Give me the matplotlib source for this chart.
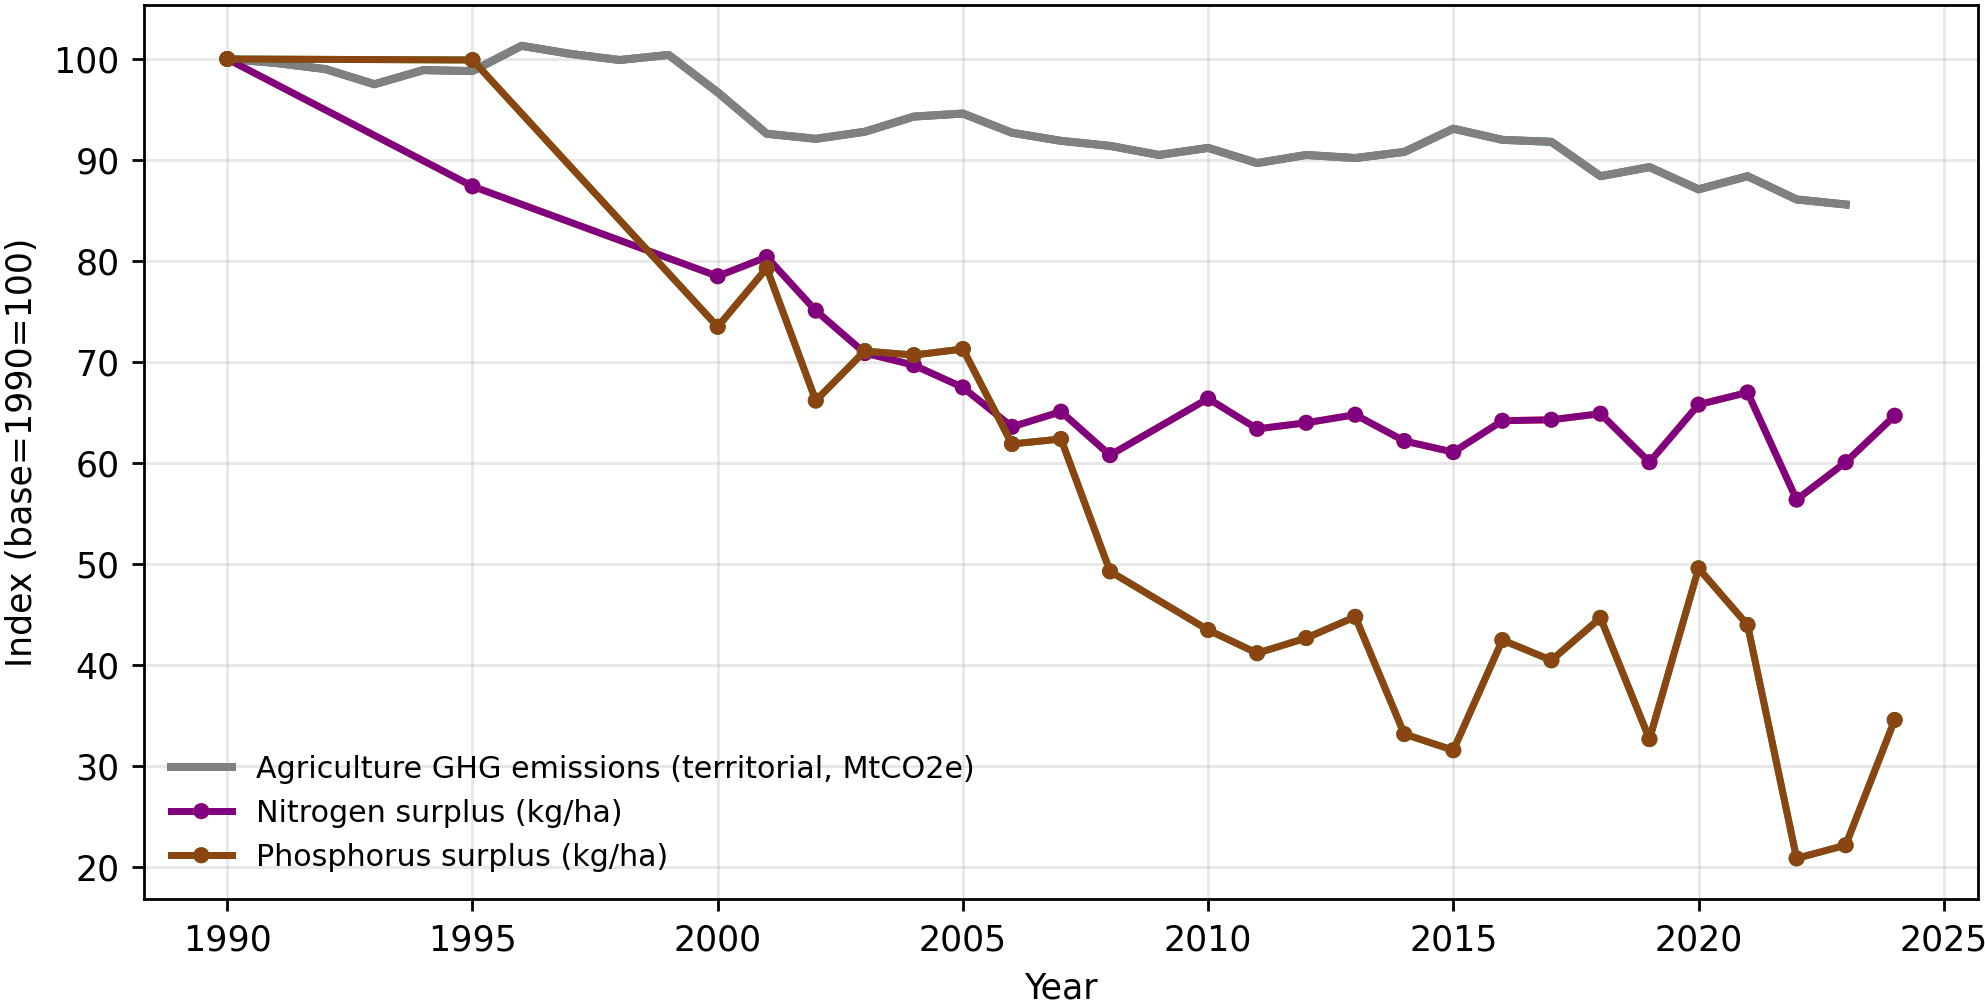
import numpy as np
import matplotlib
matplotlib.use("Agg")
import matplotlib.pyplot as plt
import matplotlib.patheffects as pe

# agriculture GHG emissions index, 1990-2023
ghg_years = list(range(1990, 2024))
ghg_index = [100.0, 99.6, 99.0, 97.5, 98.9, 98.8, 101.3, 100.5, 99.9, 100.4,
             96.7, 92.6, 92.1, 92.8, 94.3, 94.6, 92.7, 91.9, 91.4, 90.5,
             91.2, 89.7, 90.5, 90.2, 90.8, 93.1, 92.0, 91.8, 88.4, 89.3,
             87.1, 88.4, 86.1, 85.6]

# nutrient balance years (no 1991-94, 1996-99, 2009)
nutr_years = [1990, 1995, 2000, 2001, 2002, 2003, 2004, 2005, 2006, 2007, 2008,
              2010, 2011, 2012, 2013, 2014, 2015, 2016, 2017, 2018, 2019,
              2020, 2021, 2022, 2023, 2024]
nitrogen_index = [100.0, 87.4, 78.5, 80.4, 75.1, 70.9, 69.7, 67.5, 63.6, 65.1, 60.8,
                  66.4, 63.4, 64.0, 64.8, 62.2, 61.1, 64.2, 64.3, 64.9, 60.1,
                  65.8, 67.0, 56.4, 60.1, 64.7]
phosphorus_index = [100.0, 99.9, 73.5, 79.3, 66.2, 71.1, 70.7, 71.3, 61.9, 62.4, 49.3,
                    43.5, 41.2, 42.7, 44.8, 33.2, 31.6, 42.5, 40.5, 44.7, 32.7,
                    49.6, 44.0, 20.9, 22.2, 34.6]

labels = ["Agriculture GHG emissions (territorial, MtCO2e)",
          "Nitrogen surplus (kg/ha)",
          "Phosphorus surplus (kg/ha)"]

fig = plt.figure(figsize=(1985 / 250, 1002 / 250), dpi=250)
ax = fig.add_axes([0.0725, 0.1028, 0.924, 0.892])


def fringe(c):
    return [pe.Stroke(foreground=c), pe.Normal()]


ax.plot(ghg_years, ghg_index, color="gray", lw=2.3, label=labels[0],
        path_effects=fringe("C0"))
ax.plot(nutr_years, nitrogen_index, color="purple", lw=2.0, marker="o",
        markersize=3.6, label=labels[1], path_effects=fringe("C1"))
ax.plot(nutr_years, phosphorus_index, color="saddlebrown", lw=2.0, marker="o",
        markersize=3.6, label=labels[2], path_effects=fringe("C2"))

ax.set_xlabel("Year", fontsize=10)
ax.set_ylabel("Index (base=1990=100)", fontsize=10)
ax.tick_params(labelsize=10)
ax.grid(True, alpha=0.3)
ax.legend(loc="lower left", frameon=False, fontsize=8.7)

fig.savefig("out.png", dpi=250)
